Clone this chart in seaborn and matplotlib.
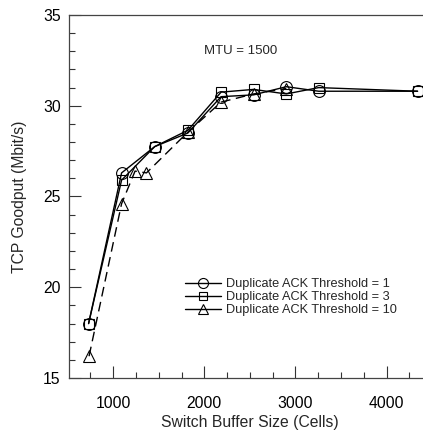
import pandas as pd
import seaborn as sns
import matplotlib
matplotlib.use("Agg")
import matplotlib.pyplot as plt
from matplotlib.ticker import MultipleLocator

sns.set_style('ticks')
plt.rcParams['font.family'] = ['Liberation Sans', 'DejaVu Sans']

# values
buf_main = [730, 1092, 1456, 1820, 2184, 2540, 2900, 3255, 4340]
goodput_dup1 = [18.0, 26.3, 27.75, 28.5, 30.5, 30.6, 31.05, 30.8, 30.8]
goodput_dup3 = [18.0, 25.9, 27.75, 28.65, 30.75, 30.9, 30.65, 31.0, 30.8]
buf_dup10 = [735, 1092, 1240, 1365, 1820, 2184, 2540, 2900]
goodput_dup10 = [16.2, 24.6, 26.4, 26.3, 28.55, 30.2, 30.65, 30.95]
labels = ["Duplicate ACK Threshold = 1",
          "Duplicate ACK Threshold = 3",
          "Duplicate ACK Threshold = 10"]

series = [
    (buf_main, goodput_dup1, 'o', '-'),
    (buf_main, goodput_dup3, 's', '-'),
    (buf_dup10, goodput_dup10, '^', (0, (7, 4))),
]

fig = plt.figure(figsize=(4.23, 4.37), dpi=100)
ax = fig.add_axes([69/423, 1 - 378/437, 354/423, 363/437])

for (x, y, mk, ls), lab in zip(series, labels):
    df = pd.DataFrame({'buf': x, 'goodput': y})
    sns.lineplot(data=df, x='buf', y='goodput', ax=ax, color='black',
                 marker=mk, linestyle=ls, lw=1.0, ms=8.5 if mk != 's' else 7.5,
                 markerfacecolor='none', markeredgecolor='black',
                 markeredgewidth=0.8, label=lab)

ax.set_xlim(515, 4400)
ax.set_ylim(15, 35)
ax.xaxis.set_major_locator(MultipleLocator(1000))
ax.xaxis.set_minor_locator(MultipleLocator(250))
ax.yaxis.set_major_locator(MultipleLocator(5))
ax.yaxis.set_minor_locator(MultipleLocator(1))
ax.tick_params(which='both', direction='in', width=0.8, colors='#333333',
               labelcolor='black', labelsize=11.3)
ax.tick_params(which='major', length=8.5)
ax.tick_params(which='minor', length=4.3)
ax.tick_params(axis='x', pad=13)
ax.tick_params(axis='y', pad=6)
for s in ['left', 'top', 'bottom']:
    ax.spines[s].set_color('#444444')
    ax.spines[s].set_linewidth(0.9)
ax.spines['right'].set_visible(False)

ax.set_xlabel("Switch Buffer Size (Cells)", fontsize=11.3)
ax.set_ylabel("TCP Goodput (Mbit/s)", fontsize=11.3)
ax.xaxis.set_label_coords(0.511, -0.102)
ax.yaxis.set_label_coords(-0.119, 0.5)

ax.text(2400, 33.0, "MTU = 1500", ha='center', va='center', fontsize=9.5)

leg = ax.legend(loc='upper left', bbox_to_anchor=(185/423, 1 - 278/437),
                bbox_transform=fig.transFigure, frameon=False, fontsize=9.2,
                borderpad=0, borderaxespad=0, handlelength=2.8,
                handletextpad=0.4, labelspacing=0.08, markerscale=0.85)
# legend keys are drawn solid in the reference
for h in leg.legend_handles:
    h.set_linestyle('-')

fig.savefig("out.png", dpi=100)
